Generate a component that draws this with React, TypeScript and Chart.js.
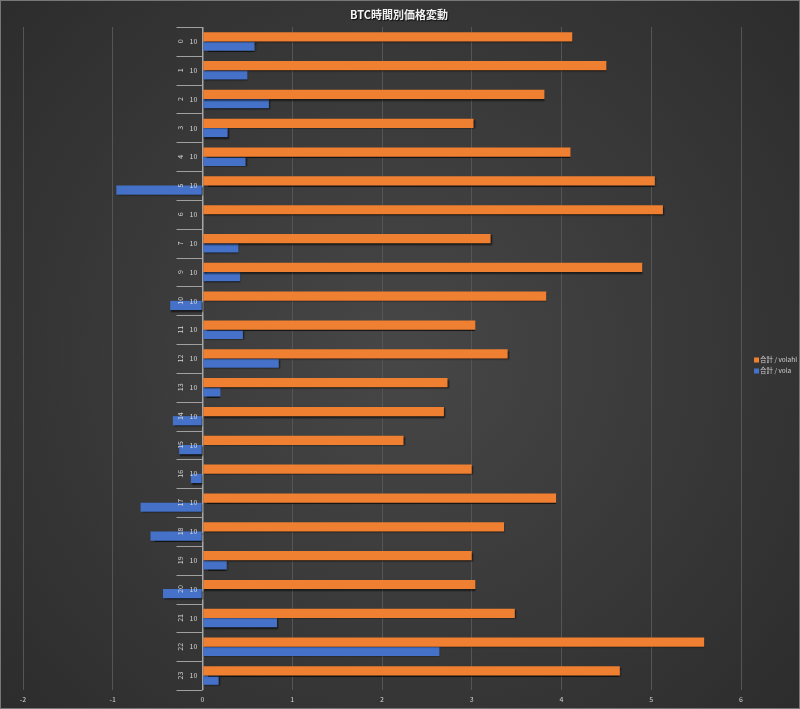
import React, { useEffect, useRef } from "react";
import { Chart, registerables } from "chart.js";
Chart.register(...registerables);

const TITLE = "BTC時間別価格変動";
const hours = ["0", "1", "2", "3", "4", "5", "6", "7", "9", "10", "11", "12", "13", "14", "15", "16", "17", "18", "19", "20", "21", "22", "23"];
const subLabels = ["10", "10", "10", "10", "10", "10", "10", "10", "10", "10", "10", "10", "10", "10", "10", "10", "10", "10", "10", "10", "10", "10", "10"];
const volahl = [4.12, 4.5, 3.81, 3.02, 4.1, 5.04, 5.13, 3.21, 4.9, 3.83, 3.04, 3.4, 2.73, 2.69, 2.24, 3.0, 3.94, 3.36, 3.0, 3.04, 3.48, 5.59, 4.65];
const vola = [0.58, 0.5, 0.74, 0.28, 0.48, -0.96, null, 0.4, 0.42, -0.36, 0.45, 0.85, 0.2, -0.33, -0.26, -0.13, -0.69, -0.58, 0.27, -0.44, 0.83, 2.64, 0.18];
const seriesNames = ["合計 / volahl", "合計 / vola"];
const seriesColors = ["#EF7F31", "#4572C8"];
const X_MIN = -2;
const X_MAX = 6;

const W = 800;
const H = 709;

const decorPlugin = {
  id: "decor",
  beforeDraw(chart: any) {
    const { ctx } = chart;
    ctx.save();
    const g = ctx.createRadialGradient(W / 2, H / 2, 20, W / 2, H / 2, 560);
    g.addColorStop(0, "#464646");
    g.addColorStop(1, "#2b2b2b");
    ctx.fillStyle = g;
    ctx.fillRect(0, 0, W, H);
    ctx.strokeStyle = "#777777";
    ctx.lineWidth = 1;
    ctx.strokeRect(0.5, 0.5, W - 1, H - 1);
    ctx.restore();
  },
  beforeDatasetsDraw(chart: any) {
    const { ctx } = chart;
    ctx.save();
    ctx.shadowColor = "rgba(0,0,0,0.65)";
    ctx.shadowOffsetX = 1;
    ctx.shadowOffsetY = 1.5;
    ctx.shadowBlur = 1.5;
  },
  afterDatasetsDraw(chart: any) {
    chart.ctx.restore();
  },
  afterDraw(chart: any) {
    const { ctx, chartArea } = chart;
    const xs = chart.scales.x;
    const ys = chart.scales.y;
    const x0 = xs.getPixelForValue(0);
    const n = hours.length;
    const step = (chartArea.bottom - chartArea.top) / n;
    ctx.save();
    // separators
    ctx.strokeStyle = "#a0a0a0";
    ctx.lineWidth = 1;
    for (let i = 0; i <= n; i++) {
      const y = Math.round(chartArea.top + i * step) + 0.5;
      ctx.beginPath();
      ctx.moveTo(x0 - 26, y);
      ctx.lineTo(x0, y);
      ctx.stroke();
    }
    // labels
    ctx.fillStyle = "#d4d4d4";
    ctx.font = "7px 'Noto Sans CJK JP', sans-serif";
    ctx.textAlign = "center";
    ctx.textBaseline = "middle";
    for (let i = 0; i < n; i++) {
      const yc = ys.getPixelForValue(i);
      ctx.fillText(subLabels[i], x0 - 9, yc);
      ctx.save();
      ctx.translate(x0 - 22, yc);
      ctx.rotate(-Math.PI / 2);
      ctx.fillText(hours[i], 0, 0);
      ctx.restore();
    }
    // title
    ctx.font = "bold 11px 'Noto Sans CJK JP', sans-serif";
    ctx.fillStyle = "#f2f2f2";
    ctx.shadowColor = "rgba(0,0,0,0.8)";
    ctx.shadowOffsetX = 1;
    ctx.shadowOffsetY = 1;
    ctx.shadowBlur = 1;
    ctx.fillText(TITLE, 399, 15);
    ctx.shadowColor = "transparent";
    // legend
    ctx.font = "6.5px 'Noto Sans CJK JP', sans-serif";
    ctx.textAlign = "left";
    for (let i = 0; i < seriesNames.length; i++) {
      const ly = 360 + i * 11;
      ctx.fillStyle = seriesColors[i];
      ctx.fillRect(754, ly - 2.5, 5, 5);
      ctx.fillStyle = "#d0d0d0";
      ctx.fillText(seriesNames[i], 760, ly);
    }
    ctx.restore();
  },
};

export default function App() {
  const ref = useRef<HTMLCanvasElement | null>(null);
  useEffect(() => {
    const canvas = ref.current;
    if (!canvas) return;
    const chart = new Chart(canvas, {
      type: "bar",
      data: {
        labels: hours,
        datasets: [
          {
            label: seriesNames[0],
            data: volahl,
            backgroundColor: seriesColors[0],
            borderWidth: 0,
            categoryPercentage: 0.64,
            barPercentage: 1,
          },
          {
            label: seriesNames[1],
            data: vola as any,
            backgroundColor: seriesColors[1],
            borderWidth: 0,
            categoryPercentage: 0.64,
            barPercentage: 1,
          },
        ],
      },
      options: {
        indexAxis: "y",
        responsive: false,
        animation: false,
        devicePixelRatio: 1,
        layout: { padding: { top: 27, left: 23, right: 59, bottom: 0 } },
        plugins: {
          legend: { display: false },
          title: { display: false },
          tooltip: { enabled: false },
        },
        scales: {
          x: {
            type: "linear",
            min: X_MIN,
            max: X_MAX,
            afterFit: (s: any) => {
              s.height = 19;
            },
            ticks: {
              stepSize: 1,
              color: "#d4d4d4",
              font: { size: 7, family: "'Noto Sans CJK JP', sans-serif" },
              padding: 5,
            },
            grid: {
              color: (c: any) => (c.tick && c.tick.value === 0 ? "#a6a6a6" : "#555555"),
              lineWidth: (c: any) => (c.tick && c.tick.value === 0 ? 1.5 : 1),
              drawTicks: false,
            },
            border: { display: false },
          },
          y: {
            type: "category",
            display: false,
            offset: true,
          },
        },
      },
      plugins: [decorPlugin],
    });
    return () => chart.destroy();
  }, []);
  return (
    <div style={{ position: "absolute", left: 0, top: 0, width: W, height: H }}>
      <canvas ref={ref} width={W} height={H} style={{ display: "block" }} />
    </div>
  );
}
